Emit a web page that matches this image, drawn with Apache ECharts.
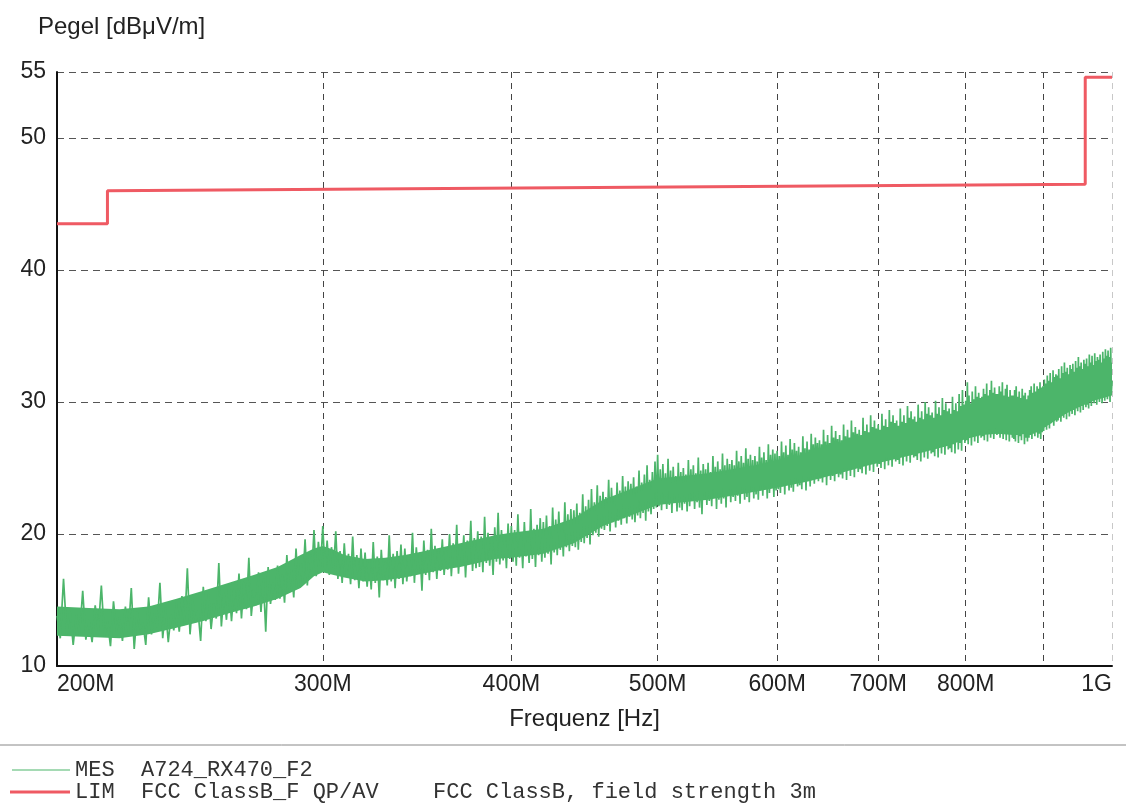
<!DOCTYPE html>
<html>
<head>
<meta charset="utf-8">
<title>Pegel</title>
<script src="https://cdn.jsdelivr.net/npm/echarts@6/dist/echarts.min.js"></script>
<style>
  html, body { margin: 0; padding: 0; background: #fff; }
  #chart { width: 1126px; height: 805px; }
</style>
</head>
<body>
<div id="chart"></div>
<script>
// sweep: 200 MHz .. 1000 MHz, 1 MHz step
const mesStart = 200;
const mesStep = 1;
// MES A724_RX470_F2, level in dBµV/m
const mesLevel = [
  13.8,12.1,16.6,12.4,14.2,11.6,13.9,12.3,15.7,12.0,13.5,11.8,14.6,12.7,16.1,12.2,13.4,11.5,14.9,12.6,
  13.7,11.9,14.5,12.5,15.9,11.3,14.1,12.8,13.3,11.6,15.2,12.4,14.0,12.9,16.3,12.1,14.4,11.8,13.9,12.7,
  14.8,12.6,15.3,13.1,17.4,12.4,15.0,13.3,14.2,11.9,16.0,13.4,15.5,12.8,14.7,13.6,17.8,13.0,15.6,13.5,
  16.1,13.4,15.9,14.0,17.0,13.6,16.4,14.3,18.2,13.8,15.8,14.6,17.1,14.1,16.6,12.6,17.5,14.7,16.3,15.0,
  17.6,15.1,16.9,14.8,18.4,15.6,17.3,15.2,18.9,15.9,17.8,16.3,19.6,16.1,18.5,17.0,20.3,16.8,19.4,17.5,
  20.6,17.2,19.5,16.9,19.0,17.4,20.2,16.6,18.7,16.3,19.3,16.8,18.5,16.2,19.8,16.5,18.4,15.9,18.9,16.4,
  18.6,16.0,18.1,15.8,19.4,16.3,18.3,15.2,18.8,16.5,17.9,16.1,19.9,16.4,18.5,15.9,18.7,16.6,19.2,16.2,
  18.9,16.4,18.4,16.8,20.1,16.3,19.0,17.0,18.6,15.7,19.5,16.9,18.8,16.5,20.4,17.1,19.1,16.6,18.9,17.2,
  19.6,16.9,18.8,17.3,20.0,16.8,19.3,17.5,20.7,17.0,19.2,17.6,19.9,16.7,19.5,17.8,21.0,17.2,19.7,17.4,
  20.2,17.5,19.8,17.1,21.3,17.8,20.1,17.6,19.6,16.9,20.5,17.9,21.6,17.7,20.3,18.0,19.9,17.4,20.8,18.1,
  20.6,17.9,20.3,17.6,21.5,18.2,20.0,17.4,20.9,18.3,19.8,17.8,21.9,18.1,20.4,17.5,20.7,18.4,21.2,17.9,
  20.9,18.2,21.4,18.5,20.6,17.7,22.0,18.6,21.1,18.4,21.7,18.8,20.8,18.3,22.4,19.0,21.5,18.7,21.9,19.1,
  21.8,19.0,22.3,18.8,21.6,19.4,23.0,19.3,22.1,19.7,22.6,19.2,23.4,19.9,22.4,20.1,23.7,19.8,22.9,20.4,
  23.2,20.3,22.8,20.6,24.1,20.2,23.5,20.9,22.7,20.5,23.9,21.0,23.3,20.7,24.4,21.2,23.6,20.8,24.0,21.3,
  23.8,21.1,24.3,20.9,23.6,21.4,24.8,21.2,23.9,21.6,24.5,21.0,25.2,21.7,24.1,21.5,24.7,21.9,25.5,22.0,
  26.0,22.1,24.9,21.8,25.3,22.4,24.6,21.9,25.7,22.2,24.8,21.6,25.1,22.5,24.4,21.7,25.4,22.0,24.7,21.8,
  25.0,22.3,24.5,21.7,25.6,22.1,24.9,22.6,25.2,21.9,24.6,22.4,25.8,22.0,24.8,21.5,25.3,22.7,24.9,22.2,
  25.4,22.5,24.7,22.1,25.9,22.8,25.1,21.9,25.5,22.6,24.9,22.3,26.1,22.7,25.2,22.0,25.7,22.9,25.3,22.4,
  25.6,22.8,25.2,22.5,26.3,22.9,25.5,22.3,25.9,23.1,25.4,22.6,26.5,22.8,25.7,22.4,26.0,23.2,25.6,22.7,
  25.9,23.0,25.5,22.6,26.6,23.3,25.8,22.9,26.2,23.4,25.6,22.7,26.8,23.1,26.0,23.5,26.4,22.8,26.1,23.3,
  26.3,23.4,25.9,23.1,27.0,23.6,26.2,23.0,26.7,23.8,26.0,23.3,27.2,23.5,26.4,23.2,26.9,23.9,26.3,23.6,
  26.6,23.7,26.2,23.4,27.4,24.0,26.5,23.3,27.0,24.1,26.4,23.6,27.6,24.2,26.8,23.8,27.3,24.3,26.9,24.0,
  27.1,24.2,26.8,23.9,27.9,24.5,27.0,23.7,27.5,24.6,26.9,24.1,28.2,24.4,27.3,24.0,27.8,24.7,27.2,24.3,
  27.5,24.5,27.1,24.2,28.3,24.8,27.4,24.1,27.9,25.0,27.3,24.4,28.6,24.9,27.7,24.3,28.1,25.1,27.6,24.7,
  27.9,24.9,27.5,24.6,28.8,25.2,27.8,24.5,28.3,25.4,27.7,24.8,29.0,25.3,28.1,24.7,28.6,25.5,28.0,25.1,
  28.3,25.3,27.9,25.0,29.1,25.6,28.2,24.9,28.7,25.8,28.1,25.2,29.4,25.7,28.5,25.1,29.0,25.9,28.4,25.5,
  28.6,25.6,28.2,25.3,29.5,25.9,28.5,25.2,29.0,26.1,28.4,25.5,29.7,26.0,28.8,25.4,29.3,26.2,28.7,25.8,
  28.9,25.9,28.5,25.6,29.8,26.2,28.8,25.5,29.3,26.4,28.7,25.8,30.0,26.3,29.1,25.7,29.6,26.5,29.0,26.1,
  29.2,26.2,28.8,25.9,30.1,26.5,29.1,25.8,29.6,26.7,29.0,26.1,30.3,26.6,29.4,26.0,29.9,26.8,29.3,26.4,
  29.5,26.5,29.1,26.2,30.4,26.8,29.4,26.1,29.9,27.0,29.3,26.4,30.6,26.9,29.7,26.3,30.9,27.3,29.8,26.9,
  30.1,27.1,31.5,26.8,30.5,27.4,29.9,26.7,30.8,27.6,30.2,27.0,31.2,27.5,30.4,26.9,30.7,27.8,30.3,27.3,
  30.4,27.4,31.0,27.1,30.6,27.7,31.4,27.0,30.5,27.9,30.9,27.3,31.6,27.8,30.7,27.2,31.1,28.0,30.6,27.5,
  30.6,27.6,31.2,27.3,30.8,27.9,31.5,27.2,30.5,27.7,31.0,27.1,31.3,27.8,30.4,27.0,30.9,27.6,30.5,27.3,
  30.5,27.2,30.9,27.0,31.2,27.5,30.4,26.9,30.8,27.4,30.3,27.1,31.0,27.6,30.5,26.8,30.7,27.3,30.2,27.0,
  30.5,27.3,30.9,27.5,31.2,27.2,30.7,27.6,31.4,27.4,30.8,27.7,31.2,27.3,31.0,27.6,31.5,27.2,31.1,27.7,
  31.2,27.8,31.7,28.1,31.4,27.9,32.0,28.3,31.6,28.0,32.2,28.4,31.5,28.6,32.4,28.2,31.9,28.7,32.1,28.5,
  32.0,28.6,32.5,28.9,31.8,28.5,32.7,29.0,32.2,28.8,33.0,29.1,32.3,28.7,32.6,29.2,32.1,28.9,32.8,29.3,
  32.5,29.1,32.9,29.4,32.3,29.0,33.1,29.5,32.6,29.3,33.4,29.6,32.7,29.2,33.0,29.7,32.5,29.4,33.2,29.8,
  32.9,29.6,33.3,29.8,32.7,29.5,33.6,30.0,33.0,29.7,33.5,30.1,32.8,29.9,33.7,30.2,33.1,29.8,33.4,30.3,
  33.2,30.0,33.6,30.3,33.0,29.9,33.8,30.4,33.3,30.1,34.0,30.5,33.5,30.2,33.9,30.6,33.4,30.0,34.1,30.7,
  31.6
];

// dense inner core of the MES trace (lower / upper edge)
const bandFreq = [200, 210, 220, 230, 240, 250, 260, 270, 280, 290, 296, 300, 305, 310, 320, 330, 340, 350, 360, 370,
  380, 390, 400, 420, 440, 460, 480, 500, 520, 540, 560, 580, 600, 630, 660, 690, 720, 750, 780, 800,
  820, 840, 860, 880, 900, 920, 940, 960, 980, 1000];
const bandLow = [12.3, 12.2, 12.1, 12.4, 12.9, 13.4, 14.0, 14.5, 15.1, 15.9, 16.8, 17.1, 16.9, 16.7, 16.4, 16.5, 16.7, 17.0, 17.3, 17.5,
  17.8, 18.1, 18.2, 18.5, 19.3, 20.6, 21.4, 22.2, 22.4, 22.6, 22.9, 23.2, 23.5, 24.0, 24.6, 25.2, 25.7, 26.2, 26.7, 27.2,
  27.5, 27.6, 27.5, 27.6, 28.0, 28.7, 29.4, 29.9, 30.2, 30.5];
const bandHigh = [14.5, 14.4, 14.3, 14.5, 15.1, 15.7, 16.3, 16.9, 17.5, 18.4, 18.9, 19.1, 18.8, 18.4, 18.1, 18.2, 18.4, 18.7, 19.0, 19.3,
  19.6, 19.9, 20.1, 20.4, 21.2, 22.6, 23.4, 24.2, 24.4, 24.6, 24.9, 25.2, 25.6, 26.1, 26.8, 27.4, 28.0, 28.5, 29.0, 29.5,
  29.9, 30.1, 30.0, 30.1, 30.6, 31.3, 31.9, 32.4, 32.7, 33.0];

// LIM FCC ClassB F QP/AV (step line)
const limFreq = [200, 216, 216, 960, 960, 1000];
const limLevel = [43.5, 43.5, 46.0, 46.5, 54.6, 54.6];

// axis ticks
const xGridValues = [300, 400, 500, 600, 700, 800, 900, 1000];
const xLabelValues = [200, 300, 400, 500, 600, 700, 800, 1000];

const mesData = mesLevel.map((v, i) => [mesStart + i * mesStep, v]);
const bandData = bandFreq.map((f, i) => [f, bandLow[i], bandHigh[i]]);
const limData = limFreq.map((f, i) => [f, limLevel[i]]);

const green = '#4cb56a';
const red = '#ef5a63';
const sans = 'Liberation Sans, Arial, sans-serif';
const mono = 'Liberation Mono, Courier New, monospace';

const chart = echarts.init(document.getElementById('chart'));
chart.setOption({
  animation: false,
  backgroundColor: '#fff',
  title: {
    text: 'Pegel [dBμV/m]',
    left: 38,
    top: 15,
    padding: 0,
    textStyle: { fontFamily: sans, fontSize: 24, fontWeight: 'normal', color: '#222' }
  },
  grid: { left: 57, right: 14, top: 72, bottom: 139 },
  xAxis: {
    type: 'log',
    logBase: 10,
    min: 200,
    max: 1000,
    name: 'Frequenz [Hz]',
    nameLocation: 'middle',
    nameGap: 41,
    nameTextStyle: { fontFamily: sans, fontSize: 24, color: '#222' },
    axisLine: { show: true, lineStyle: { color: '#111', width: 2 } },
    axisTick: { show: false, customValues: xGridValues },
    axisLabel: {
      customValues: xLabelValues,
      fontFamily: sans,
      fontSize: 23,
      color: '#222',
      margin: 7,
      alignMinLabel: 'left',
      alignMaxLabel: 'right',
      formatter: function (v) {
        v = Math.round(v);
        return v >= 1000 ? (v / 1000) + 'G' : v + 'M';
      }
    },
    splitLine: {
      show: true,
      lineStyle: {
        type: [6, 5],
        width: 1,
        color: ['#444', '#444', '#444', '#444', '#444', '#444', '#444', '#c8c8c8']
      }
    }
  },
  yAxis: {
    type: 'value',
    min: 10,
    max: 55,
    interval: 10,
    axisLine: { show: true, lineStyle: { color: '#111', width: 2 } },
    axisTick: { show: false },
    axisLabel: { fontFamily: sans, fontSize: 23, color: '#222', margin: 11 },
    splitLine: { show: true, lineStyle: { type: [7, 5], width: 1, color: '#555' } }
  },
  series: [
    {
      name: 'MES core',
      type: 'custom',
      silent: true,
      clip: true,
      data: bandData,
      encode: { x: 0, y: [1, 2] },
      renderItem: function (params, api) {
        if (params.dataIndex !== 0) return null;
        const pts = [];
        for (let i = 0; i < bandData.length; i++) pts.push(api.coord([bandData[i][0], bandData[i][2]]));
        for (let i = bandData.length - 1; i >= 0; i--) pts.push(api.coord([bandData[i][0], bandData[i][1]]));
        return { type: 'polygon', shape: { points: pts }, style: { fill: green } };
      },
      z: 2
    },
    {
      name: 'MES',
      type: 'line',
      data: mesData,
      symbol: 'none',
      silent: true,
      lineStyle: { color: green, width: 1.7 },
      z: 3
    },
    {
      name: 'LIM',
      type: 'line',
      data: limData,
      symbol: 'none',
      silent: true,
      lineStyle: { color: red, width: 3 },
      z: 4
    }
  ],
  graphic: [
    { type: 'line', shape: { x1: 0, y1: 745, x2: 1126, y2: 745 }, style: { stroke: '#888', lineWidth: 1 } },
    { type: 'line', shape: { x1: 12, y1: 770, x2: 70, y2: 770 }, style: { stroke: green, lineWidth: 1.2 } },
    { type: 'line', shape: { x1: 10, y1: 792, x2: 70, y2: 792 }, style: { stroke: red, lineWidth: 3 } },
    { type: 'text', x: 75, y: 770, style: { text: 'MES  A724_RX470_F2', font: '22px ' + mono, fill: '#333', textVerticalAlign: 'middle' } },
    { type: 'text', x: 75, y: 792, style: { text: 'LIM  FCC ClassB_F QP/AV', font: '22px ' + mono, fill: '#333', textVerticalAlign: 'middle' } },
    { type: 'text', x: 433, y: 792, style: { text: 'FCC ClassB, field strength 3m', font: '22px ' + mono, fill: '#333', textVerticalAlign: 'middle' } }
  ]
});
</script>
</body>
</html>
